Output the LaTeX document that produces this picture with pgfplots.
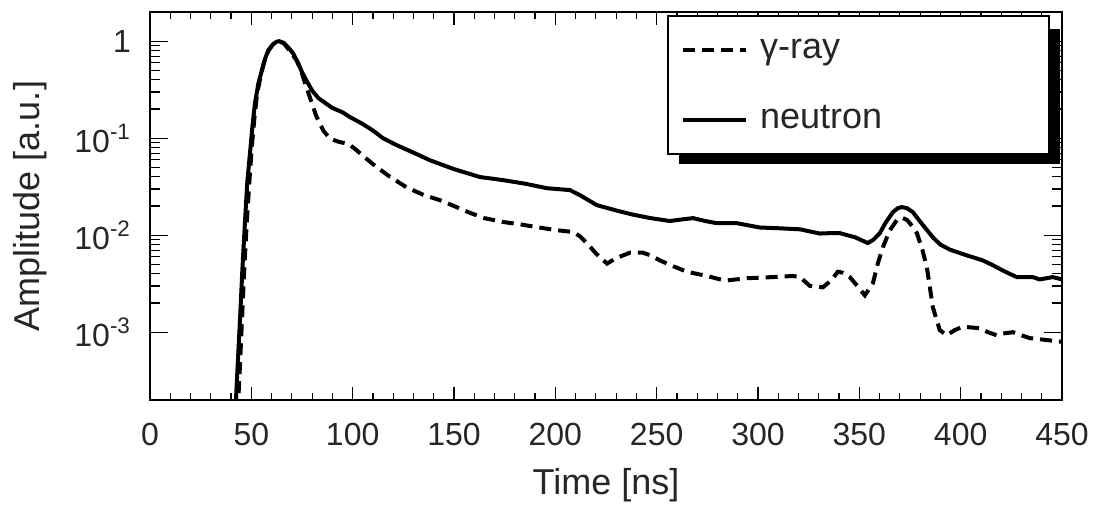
\documentclass[border=0pt]{standalone}
\usepackage{pgfplots}
\pgfplotsset{compat=1.18}
\usepackage{fontspec}
\setmainfont{Liberation Sans}

\begin{document}
\begin{tikzpicture}
\path (0,0) rectangle (550pt,252.5pt);
\begin{axis}[
  at={(75pt,52.5pt)}, anchor=south west,
  scale only axis,
  width=456pt, height=194pt,
  xmin=0, xmax=450,
  ymode=log, ymin=2e-4, ymax=2,
  xtick={0,50,...,450},
  minor x tick num=4,
  ytick={0.001,0.01,0.1,1},
  yticklabels={10\textsuperscript{-3},10\textsuperscript{-2},10\textsuperscript{-1},1},
  xtick pos=both, ytick pos=both,
  tick align=inside,
  xtick style={/pgfplots/major tick length=6.5pt, /pgfplots/minor tick length=3.5pt},
  ytick style={/pgfplots/major tick length=9pt, /pgfplots/minor tick length=5pt},
  every tick/.style={black, line width=0.6pt},
  axis line style={line width=1.2pt},
  /pgf/number format/assume math mode=true,
  ticklabel style={font=\fontsize{16}{19}\selectfont, text=black!85},
  xticklabel style={yshift=-8pt},
  yticklabel style={xshift=-6pt},
  xlabel={Time [ns]},
  ylabel={Amplitude [a.u.]},
  label style={font=\fontsize{18}{21}\selectfont, text=black!85},
  xlabel style={at={(axis description cs:0.5,-0.219)}, anchor=center},
  ylabel style={at={(axis description cs:-0.131,0.5)}, anchor=center, rotate=0},
  legend cell align=left,
  legend image code/.code={\draw[#1] (0pt,0pt) -- (31.5pt,0pt);},
  legend style={name=leg, at={(rel axis cs:1,1)}, anchor=north east, xshift=-6pt, yshift=-1.5pt,
    draw=black, line width=0.9pt, fill=white,
    font=\fontsize{18}{21}\selectfont,
    inner xsep=6.5pt, inner ysep=8.5pt, row sep=18pt,
    nodes={text height=13pt, text depth=4pt, inner ysep=0pt, inner xsep=6pt, text=black!85}},
]
\addplot[black, line width=2pt, dash pattern=on 6pt off 3.5pt] coordinates {
(43.2,1.5e-4) (44.0,3e-4) (45.2,1.1e-3) (46.4,4e-3) (47.6,0.012) (49.0,0.035)
(50.2,0.08) (51.5,0.16) (52.8,0.28) (54.5,0.43) (56.2,0.6) (58.5,0.8)
(60.5,0.92) (62.5,0.99) (63.8,1.0) (66,0.95) (68.5,0.82) (70.5,0.72)
(72.4,0.63) (74.5,0.50) (76.5,0.37) (79,0.26) (82,0.17) (85.5,0.12)
(88.8,0.099) (93,0.092) (97,0.088) (98.7,0.085) (102,0.075) (105,0.066)
(111,0.052) (118.4,0.040) (126.8,0.031) (135,0.026) (143,0.023) (150,0.020)
(157.9,0.017) (165,0.015) (174,0.0137) (182,0.013) (191,0.0121) (200,0.0113)
(208.7,0.0108) (212,0.0098) (215.6,0.0083) (220,0.0065) (225.5,0.0051) (230,0.0058)
(236.8,0.0066) (243.2,0.0066) (247,0.0062) (251.6,0.0055) (258,0.0048) (264.9,0.0042)
(274.8,0.0038) (283.7,0.0034) (289,0.0035) (294.5,0.0036) (307.3,0.0037) (317.2,0.0038)
(320.7,0.0037) (325.6,0.0030) (332,0.0029) (336,0.0034) (339.4,0.0042) (342,0.0041)
(345.3,0.0037) (349,0.0030) (352.7,0.0024) (356.7,0.0032) (359,0.0050) (361.6,0.0075)
(365,0.0112) (369,0.0148) (371.5,0.0150) (373.5,0.0144) (376,0.0125) (378.4,0.0105)
(381,0.0072) (383.3,0.0047) (386.3,0.0018) (389.7,0.00105) (393.2,0.00093) (397,0.00105)
(401,0.00114) (405,0.00112) (409.5,0.0011) (413.5,0.001) (417.8,0.00093) (421,0.00097)
(425.8,0.001) (430,0.00093) (434,0.00087) (442.5,0.00083) (449,0.00080) (450,0.00080)
};
\addlegendentry{\makebox[132pt][l]{γ-ray}}
\addplot[black, line width=2pt] coordinates {
(42.0,1.5e-4) (42.4,2e-4) (43.4,5.2e-4) (44.4,1.34e-3) (45.6,4.5e-3) (46.9,0.0142)
(48.0,0.035) (49.3,0.069) (50.5,0.13) (51.8,0.23) (53.5,0.37) (55.2,0.50)
(56.8,0.66) (58.3,0.80) (60.5,0.92) (62.5,0.99) (63.8,1.0) (66,0.96)
(68.5,0.85) (70.6,0.75) (73,0.60) (75.2,0.47) (77.3,0.39) (80,0.31)
(83,0.26) (87.2,0.225) (90,0.205) (95,0.185) (98.7,0.165) (105,0.14)
(110,0.12) (115,0.10) (121.8,0.0846) (130,0.071) (138.1,0.0593) (150,0.048)
(162.8,0.0398) (174.1,0.0370) (185,0.034) (195.9,0.0305) (207.2,0.0292) (212.1,0.0259)
(220.5,0.0204) (230,0.018) (238.3,0.0163) (247,0.015) (256.5,0.0140) (262,0.0145)
(268,0.0150) (274,0.014) (279.7,0.0133) (289.6,0.0133) (301,0.0120) (310,0.0118)
(320.7,0.0115) (330.5,0.0104) (335.5,0.0105) (340.4,0.0105) (348,0.0095) (354.2,0.0083)
(357,0.0090) (360.1,0.0105) (363,0.0135) (366.6,0.0173) (369,0.0190) (371,0.0195)
(373.5,0.019) (376.4,0.0173) (381,0.013) (386.3,0.0095) (390,0.0080) (394.7,0.0071)
(403,0.0062) (410.9,0.0055) (415.9,0.0049) (422,0.0042) (427.7,0.0037) (435.6,0.0037)
(439,0.0035) (445.5,0.0037) (450,0.0035)
};
\addlegendentry{\makebox[132pt][l]{neutron}}
\end{axis}
\fill[black] ([xshift=6pt,yshift=-4.5pt]leg.south west) rectangle ([xshift=5pt]leg.south east);
\fill[black] ([yshift=-7pt]leg.north east) rectangle ([xshift=5pt,yshift=-4.5pt]leg.south east);
\end{tikzpicture}
\end{document}
